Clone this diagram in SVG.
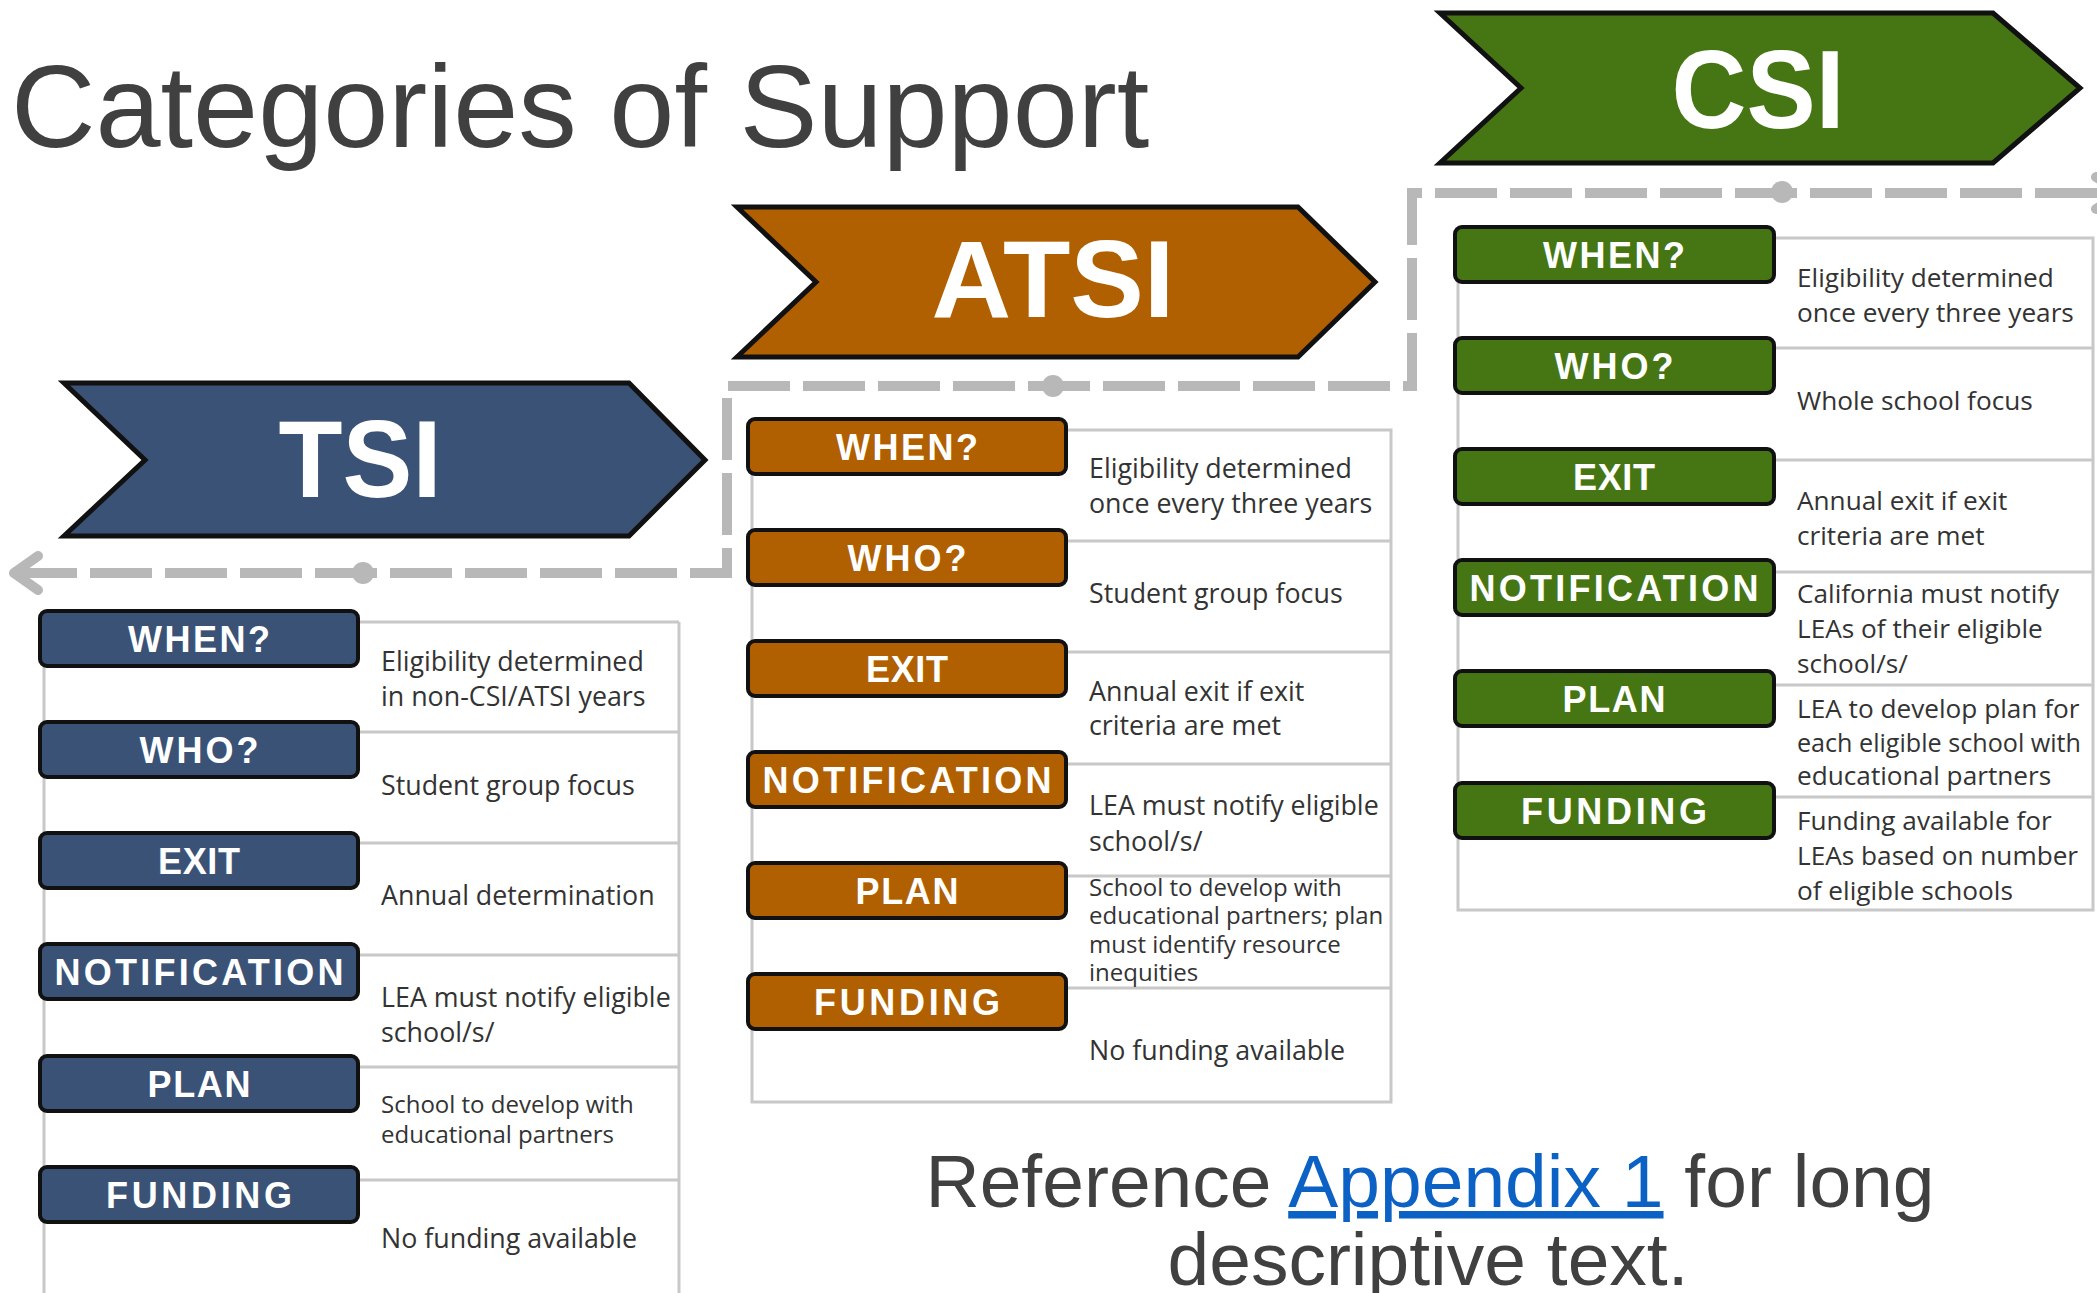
<svg xmlns="http://www.w3.org/2000/svg" width="2097" height="1293" viewBox="0 0 2097 1293">
<style>
.title{font-family:"Liberation Sans",Arial,sans-serif;font-size:117px;fill:#404040}
.chev{stroke:#111;stroke-width:5;stroke-linejoin:miter}
.chevtxt{font-family:"Liberation Sans",Arial,sans-serif;font-weight:bold;font-size:110px;fill:#fff;text-anchor:middle}
.frame{fill:none;stroke:#c8c8c8;stroke-width:3}
.box{stroke:#111;stroke-width:4}
.lbl{font-family:"Liberation Sans",Arial,sans-serif;font-weight:bold;font-size:36px;fill:#fff;text-anchor:middle}
.desc{font-family:"Open Sans","Liberation Sans",sans-serif;font-size:26.8px;fill:#333}
.cdesc{font-size:26.2px}
.small{font-size:24px}
.tsi{fill:#3a5275}
.atsi{fill:#b06000}
.csi{fill:#467614}
.dash{fill:none;stroke:#b8b8b8;stroke-width:10;stroke-dasharray:62 13}
.arrow{fill:none;stroke:#b8b8b8;stroke-width:10;stroke-linecap:round;stroke-linejoin:round}
.dot{fill:#b8b8b8}
.foot{font-family:"Liberation Sans",Arial,sans-serif;font-size:75px;fill:#404040;text-anchor:middle}
</style>

<text class="title" x="11" y="147">Categories of Support</text>

<g id="connectors">
  <path class="dash" d="M2097 193 H1412 V386 H727 V573 H48"/>
  <path class="arrow" d="M38 556 L14 573 L38 590 M14 573 H48"/>
  <path class="arrow" d="M2096 177 L2122 193 L2096 209"/>
  <circle class="dot" cx="1782" cy="192" r="11"/>
  <circle class="dot" cx="1053" cy="386" r="11"/>
  <circle class="dot" cx="363" cy="573" r="11"/>
</g>

<g id="csi-header">
  <polygon class="chev csi" points="1440,13 1993,13 2080,88 1993,163 1440,163 1521,88"/>
  <text class="chevtxt" x="1758" y="128" textLength="173" lengthAdjust="spacingAndGlyphs" style="font-size:112px">CSI</text>
</g>
<g id="atsi-header">
  <polygon class="chev atsi" points="737,207 1298,207 1375,282 1298,357 737,357 816,282"/>
  <text class="chevtxt" x="1053" y="317" textLength="243" lengthAdjust="spacingAndGlyphs">ATSI</text>
</g>
<g id="tsi-header">
  <polygon class="chev tsi" points="64,383 629,383 705,460 629,536 64,536 145,460"/>
  <text class="chevtxt" x="360" y="497" textLength="163" lengthAdjust="spacingAndGlyphs">TSI</text>
</g>

<g id="tsi-table">
  <path class="frame" d="M44 622 V1300 M679 622 V1300 M44 622 H679 M44 732 H679 M44 843 H679 M44 955 H679 M44 1067 H679 M44 1180 H679"/>
  <g id="tsi-when"><rect class="box tsi" x="40" y="611" width="318" height="55" rx="7"/><text class="lbl" x="199" y="652" textLength="142" lengthAdjust="spacing">WHEN?</text>
    <text class="desc"><tspan x="381" y="671">Eligibility determined</tspan><tspan x="381" y="706">in non-CSI/ATSI years</tspan></text></g>
  <g id="tsi-who"><rect class="box tsi" x="40" y="722" width="318" height="55" rx="7"/><text class="lbl" x="199" y="763" textLength="119" lengthAdjust="spacing">WHO?</text>
    <text class="desc" x="381" y="795">Student group focus</text></g>
  <g id="tsi-exit"><rect class="box tsi" x="40" y="833" width="318" height="55" rx="7"/><text class="lbl" x="199" y="874" textLength="82" lengthAdjust="spacing">EXIT</text>
    <text class="desc" x="381" y="905">Annual determination</text></g>
  <g id="tsi-notification"><rect class="box tsi" x="40" y="944" width="318" height="55" rx="7"/><text class="lbl" x="199" y="985" textLength="289" lengthAdjust="spacing">NOTIFICATION</text>
    <text class="desc"><tspan x="381" y="1007">LEA must notify eligible</tspan><tspan x="381" y="1042">school/s/</tspan></text></g>
  <g id="tsi-plan"><rect class="box tsi" x="40" y="1056" width="318" height="55" rx="7"/><text class="lbl" x="199" y="1097" textLength="103" lengthAdjust="spacing">PLAN</text>
    <text class="desc small"><tspan x="381" y="1113">School to develop with</tspan><tspan x="381" y="1143">educational partners</tspan></text></g>
  <g id="tsi-funding"><rect class="box tsi" x="40" y="1167" width="318" height="55" rx="7"/><text class="lbl" x="199" y="1208" textLength="186" lengthAdjust="spacing">FUNDING</text>
    <text class="desc" x="381" y="1248">No funding available</text></g>
</g>

<g id="atsi-table">
  <path class="frame" d="M752 430 V1102 H1391 V430 H752 M752 541 H1391 M752 652 H1391 M752 764 H1391 M752 876 H1391 M752 988 H1391"/>
  <g id="atsi-when"><rect class="box atsi" x="748" y="419" width="318" height="55" rx="7"/><text class="lbl" x="907" y="460" textLength="142" lengthAdjust="spacing">WHEN?</text>
    <text class="desc"><tspan x="1089" y="478">Eligibility determined</tspan><tspan x="1089" y="513">once every three years</tspan></text></g>
  <g id="atsi-who"><rect class="box atsi" x="748" y="530" width="318" height="55" rx="7"/><text class="lbl" x="907" y="571" textLength="119" lengthAdjust="spacing">WHO?</text>
    <text class="desc" x="1089" y="603">Student group focus</text></g>
  <g id="atsi-exit"><rect class="box atsi" x="748" y="641" width="318" height="55" rx="7"/><text class="lbl" x="907" y="682" textLength="82" lengthAdjust="spacing">EXIT</text>
    <text class="desc"><tspan x="1089" y="701">Annual exit if exit</tspan><tspan x="1089" y="735">criteria are met</tspan></text></g>
  <g id="atsi-notification"><rect class="box atsi" x="748" y="752" width="318" height="55" rx="7"/><text class="lbl" x="907" y="793" textLength="289" lengthAdjust="spacing">NOTIFICATION</text>
    <text class="desc"><tspan x="1089" y="815">LEA must notify eligible</tspan><tspan x="1089" y="851">school/s/</tspan></text></g>
  <g id="atsi-plan"><rect class="box atsi" x="748" y="863" width="318" height="55" rx="7"/><text class="lbl" x="907" y="904" textLength="103" lengthAdjust="spacing">PLAN</text>
    <text class="desc small"><tspan x="1089" y="896">School to develop with</tspan><tspan x="1089" y="924">educational partners; plan</tspan><tspan x="1089" y="953">must identify resource</tspan><tspan x="1089" y="981">inequities</tspan></text></g>
  <g id="atsi-funding"><rect class="box atsi" x="748" y="974" width="318" height="55" rx="7"/><text class="lbl" x="907" y="1015" textLength="186" lengthAdjust="spacing">FUNDING</text>
    <text class="desc" x="1089" y="1060">No funding available</text></g>
</g>

<g id="csi-table">
  <path class="frame" d="M1458 238 V910 H2093 V238 H1458 M1458 348 H2093 M1458 460 H2093 M1458 572 H2093 M1458 685 H2093 M1458 797 H2093"/>
  <g id="csi-when"><rect class="box csi" x="1455" y="227" width="319" height="55" rx="7"/><text class="lbl" x="1614" y="268" textLength="142" lengthAdjust="spacing">WHEN?</text>
    <text class="desc cdesc"><tspan x="1797" y="287">Eligibility determined</tspan><tspan x="1797" y="322">once every three years</tspan></text></g>
  <g id="csi-who"><rect class="box csi" x="1455" y="338" width="319" height="55" rx="7"/><text class="lbl" x="1614" y="379" textLength="119" lengthAdjust="spacing">WHO?</text>
    <text class="desc cdesc" x="1797" y="410">Whole school focus</text></g>
  <g id="csi-exit"><rect class="box csi" x="1455" y="449" width="319" height="55" rx="7"/><text class="lbl" x="1614" y="490" textLength="82" lengthAdjust="spacing">EXIT</text>
    <text class="desc cdesc"><tspan x="1797" y="510">Annual exit if exit</tspan><tspan x="1797" y="545">criteria are met</tspan></text></g>
  <g id="csi-notification"><rect class="box csi" x="1455" y="560" width="319" height="55" rx="7"/><text class="lbl" x="1614" y="601" textLength="289" lengthAdjust="spacing">NOTIFICATION</text>
    <text class="desc cdesc"><tspan x="1797" y="603">California must notify</tspan><tspan x="1797" y="638">LEAs of their eligible</tspan><tspan x="1797" y="673">school/s/</tspan></text></g>
  <g id="csi-plan"><rect class="box csi" x="1455" y="671" width="319" height="55" rx="7"/><text class="lbl" x="1614" y="712" textLength="103" lengthAdjust="spacing">PLAN</text>
    <text class="desc cdesc"><tspan x="1797" y="718">LEA to develop plan for</tspan><tspan x="1797" y="752" textLength="284" lengthAdjust="spacingAndGlyphs">each eligible school with</tspan><tspan x="1797" y="785">educational partners</tspan></text></g>
  <g id="csi-funding"><rect class="box csi" x="1455" y="783" width="319" height="55" rx="7"/><text class="lbl" x="1614" y="824" textLength="186" lengthAdjust="spacing">FUNDING</text>
    <text class="desc cdesc"><tspan x="1797" y="830">Funding available for</tspan><tspan x="1797" y="865">LEAs based on number</tspan><tspan x="1797" y="900">of eligible schools</tspan></text></g>
</g>

<text class="foot" x="1430" y="1207">Reference <tspan fill="#0b62c4" text-decoration="underline">Appendix 1</tspan> for long</text>
<text class="foot" x="1428" y="1285">descriptive text.</text>
</svg>
